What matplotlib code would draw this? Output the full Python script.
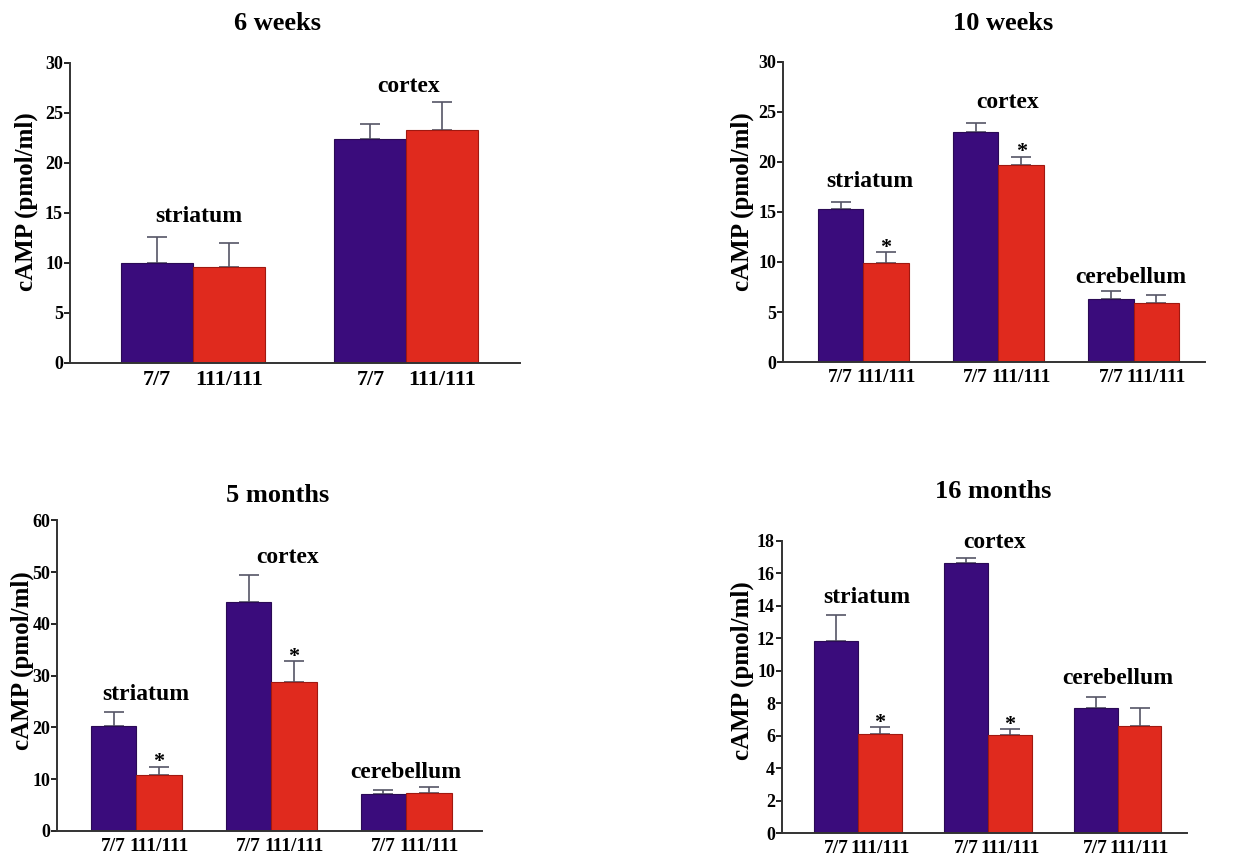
import matplotlib.pyplot as plt
import numpy as np

plt.rcParams['font.family'] = ['Liberation Serif', 'DejaVu Serif']
plt.rcParams['font.weight'] = 'bold'

genotypes = ["7/7", "111/111"]

# 6 weeks
w6_regions = ["striatum", "cortex"]
w6_wt = [10.0, 22.4]
w6_wt_err = [2.6, 1.5]
w6_mut = [9.6, 23.3]
w6_mut_err = [2.4, 2.8]
w6_sig = [False, False]

# 10 weeks
w10_regions = ["striatum", "cortex", "cerebellum"]
w10_wt = [15.3, 23.0, 6.3]
w10_wt_err = [0.7, 0.9, 0.8]
w10_mut = [9.9, 19.7, 5.9]
w10_mut_err = [1.1, 0.8, 0.8]
w10_sig = [True, True, False]

# 5 months
m5_regions = ["striatum", "cortex", "cerebellum"]
m5_wt = [20.3, 44.2, 7.1]
m5_wt_err = [2.7, 5.2, 0.8]
m5_mut = [10.8, 28.8, 7.3]
m5_mut_err = [1.6, 4.0, 1.2]
m5_sig = [True, True, False]

# 16 months
m16_regions = ["striatum", "cortex", "cerebellum"]
m16_wt = [11.85, 16.6, 7.7]
m16_wt_err = [1.55, 0.35, 0.7]
m16_mut = [6.1, 6.05, 6.6]
m16_mut_err = [0.4, 0.35, 1.1]
m16_sig = [True, True, False]

blue = '#3a0c7c'
red = '#e02a1e'
errc = '#555566'

fig = plt.figure(figsize=(12.49, 8.58), dpi=100)


def panel(rect, title, title_xy, regions, wt, wt_err, mut, mut_err, sig,
          ylim, yticks, xlim, label_pos, ylab_xy, tick_fs):
    ax = fig.add_axes(rect)
    w = 0.337
    x = np.arange(len(regions))
    ax.bar(x - w / 2, wt, w, color=blue, edgecolor='#2a0a55', linewidth=0.8, zorder=2)
    ax.bar(x + w / 2, mut, w, color=red, edgecolor='#a01810', linewidth=0.8, zorder=2)
    ax.errorbar(x - w / 2, wt, yerr=[np.zeros(len(wt)), wt_err], fmt='none',
                ecolor=errc, elinewidth=1.2, capsize=7, capthick=1.2, zorder=1)
    ax.errorbar(x + w / 2, mut, yerr=[np.zeros(len(mut)), mut_err], fmt='none',
                ecolor=errc, elinewidth=1.2, capsize=7, capthick=1.2, zorder=1)
    for i, s in enumerate(sig):
        if s:
            ax.annotate("*", (x[i] + w / 2, mut[i] + mut_err[i]), xytext=(0, -4),
                        textcoords='offset points', ha='center', va='bottom',
                        fontsize=16, fontweight='bold')
    for i, name in enumerate(regions):
        lx, ly = label_pos[i]
        ax.text(i + lx, ly, name, ha='center', va='center', fontsize=17,
                fontweight='bold')
    ticks = np.concatenate([x - w / 2, x + w / 2])
    ax.set_xticks(np.sort(ticks))
    ax.set_xticklabels(genotypes * len(regions), fontsize=tick_fs, fontweight='bold')
    ax.tick_params(axis='x', length=0, pad=5)
    ax.tick_params(axis='y', length=4, width=1.2, labelsize=13, pad=1)
    ax.set_yticks(yticks)
    ax.set_ylim(*ylim)
    ax.set_xlim(*xlim)
    ax.set_ylabel("cAMP (pmol/ml)", fontsize=18, fontweight='bold')
    ax.yaxis.label.set_va('center')
    ax.yaxis.set_label_coords(*ylab_xy)
    for sp in ['top', 'right']:
        ax.spines[sp].set_visible(False)
    for sp in ['left', 'bottom']:
        ax.spines[sp].set_linewidth(1.4)
        ax.spines[sp].set_color('#333333')
    fig.text(title_xy[0], title_xy[1], title, ha='center', va='center',
             fontsize=19, fontweight='bold')
    return ax


panel([0.056, 0.577, 0.360, 0.350], "6 weeks", (0.222, 0.973),
      w6_regions, w6_wt, w6_wt_err, w6_mut, w6_mut_err, w6_sig,
      (0, 30), range(0, 31, 5), (-0.575, 1.53),
      [(0.03, 14.6), (0.01, 27.6)], (-0.096, 0.537), 16)

panel([0.627, 0.578, 0.338, 0.350], "10 weeks", (0.803, 0.973),
      w10_regions, w10_wt, w10_wt_err, w10_mut, w10_mut_err, w10_sig,
      (0, 30), range(0, 31, 5), (-0.593, 2.53),
      [(0.05, 18.0), (0.07, 25.9), (-0.02, 8.4)], (-0.097, 0.533), 14)

panel([0.046, 0.0315, 0.340, 0.362], "5 months", (0.222, 0.423),
      m5_regions, m5_wt, m5_wt_err, m5_mut, m5_mut_err, m5_sig,
      (0, 60), range(0, 61, 10), (-0.585, 2.563),
      [(0.07, 26.3), (0.12, 52.9), (0.0, 11.2)], (-0.082, 0.547), 14)

panel([0.626, 0.029, 0.324, 0.341], "16 months", (0.795, 0.427),
      m16_regions, m16_wt, m16_wt_err, m16_mut, m16_mut_err, m16_sig,
      (0, 18), range(0, 19, 2), (-0.585, 2.53),
      [(0.07, 14.5), (0.05, 17.85), (0.0, 9.5)], (-0.099, 0.556), 14)

fig.savefig("out.png", dpi=100)
